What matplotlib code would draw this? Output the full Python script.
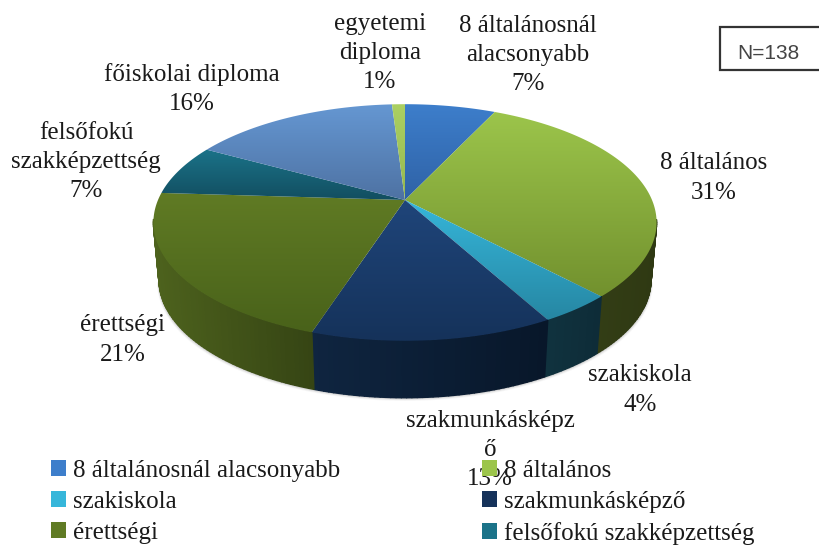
import numpy as np
import matplotlib
matplotlib.use("Agg")
import matplotlib.pyplot as plt
from matplotlib.patches import Patch, Polygon, Rectangle
from matplotlib.collections import PolyCollection
from matplotlib.colors import to_rgb

categories = ["8 általánosnál alacsonyabb", "8 általános", "szakiskola", "szakmunkásképző",
              "érettségi", "felsőfokú szakképzettség", "főiskolai diploma", "egyetemi diploma"]
values = [7, 31, 4, 13, 21, 7, 16, 1]
label_texts = ["8 általánosnál\nalacsonyabb\n7%", "8 általános\n31%", "szakiskola\n4%",
               "szakmunkásképz\nő\n13%", "érettségi\n21%", "felsőfokú\nszakképzettség\n7%",
               "főiskolai diploma\n16%", "egyetemi\ndiploma\n1%"]
label_pos = [(528, 55), (714, 178), (640, 390), (490, 450), (123, 340), (86, 162), (192, 89), (380, 53)]
top_light = ["#3d7ecb", "#9cc54b", "#36b6da", "#1f457a", "#607b24", "#1b7389", "#6597d2", "#abd062"]
top_dark = ["#2f62a6", "#72912e", "#2687a3", "#15325a", "#49621a", "#124e60", "#4e72a3", "#95b850"]
wall_light = ["#1f4070", "#3a4619", "#10333f", "#0f2540", "#4d621d", "#0e3a46", "#2e4a70", "#4a5a20"]
wall_dark = ["#1a355c", "#2f3913", "#0e2c38", "#08172a", "#364514", "#0b2f39", "#263d5c", "#3d4a1a"]

CX, CY = 405.0, 200.0
RX, RY, P = 247.0, 114.0, 0.19
DEPTH, SHRINK = 57.0, 0.978


def project(theta):
    u, v = np.sin(theta), np.cos(theta)
    w = 1 + P * v
    return CX + RX * u / w, CY - RY * v / w


fig = plt.figure(figsize=(8.2, 5.47), dpi=100)
ax = fig.add_axes([0, 0, 1, 1])
ax.set_axis_off()

fracs = np.array(values, dtype=float) / sum(values)
edges = np.concatenate([[0], np.cumsum(fracs)]) * 2 * np.pi

# soft shadow under the pie
full = np.linspace(0, 2 * np.pi, 361)
front = full[np.cos(full) < -P]
fx, fy = project(front)
bx, by = CX + (fx - CX) * SHRINK, fy + DEPTH
for grow, alpha in zip([4, 3, 2, 1], [0.03, 0.05, 0.07, 0.10]):
    sx = CX + (bx - CX) * (1 + grow / 500)
    sy = by + grow * 0.8
    ax.add_patch(Polygon(np.c_[sx, sy], closed=True, fc="k", ec="none", alpha=alpha, zorder=1))

# side wall: only the part facing the viewer
quads, cols = [], []
for i in range(len(values)):
    a0, a1 = edges[i], edges[i + 1]
    n = max(2, int(np.degrees(a1 - a0)))
    t = np.linspace(a0, a1, n + 1)
    x, y = project(t)
    x2, y2 = CX + (x - CX) * SHRINK, y + DEPTH
    c0, c1 = np.array(to_rgb(wall_light[i])), np.array(to_rgb(wall_dark[i]))
    for j in range(n):
        if np.cos(0.5 * (t[j] + t[j + 1])) > -P + 0.02:
            continue
        quads.append([(x[j], y[j]), (x[j + 1], y[j + 1]), (x2[j + 1], y2[j + 1]), (x2[j], y2[j])])
        f = (x[j] - x.min()) / max(1e-6, x.max() - x.min())
        cols.append(c0 + (c1 - c0) * f)
ax.add_collection(PolyCollection(quads, facecolors=cols, edgecolors=cols, linewidths=1.0, zorder=2))

# top face, each wedge with a vertical gradient
for i in range(len(values)):
    t = np.linspace(edges[i], edges[i + 1], 120)
    x, y = project(t)
    pts = np.vstack([[CX, CY], np.c_[x, y]])
    poly = Polygon(pts, closed=True, fc="none", ec="none", transform=ax.transData)
    ax.add_patch(poly)
    c0, c1 = np.array(to_rgb(top_light[i])), np.array(to_rgb(top_dark[i]))
    g = np.linspace(0, 1, 128)[:, None, None]
    img = c0[None, None, :] + (c1 - c0)[None, None, :] * g
    ext = (pts[:, 0].min(), pts[:, 0].max(), pts[:, 1].max(), pts[:, 1].min())
    im = ax.imshow(img, extent=ext, origin="upper", aspect="auto", zorder=3, interpolation="bilinear")
    im.set_clip_path(poly)

ax.set_xlim(0, 820)
ax.set_ylim(547, 0)

serif = "Liberation Serif"
for txt, (lx, ly) in zip(label_texts, label_pos):
    ax.text(lx, ly, txt, ha="center", va="center", family=serif, fontsize=18,
            color="#1a1a1a", linespacing=1.42, zorder=4)

# legend (first six entries fit the chart area)
shown = [0, 2, 4, 1, 3, 5]
handles = [Patch(fc=top_light[k] if k != 3 else top_dark[k], ec="none") for k in shown]
leg = fig.legend(handles, [categories[k] for k in shown], ncol=2, frameon=False,
                 loc="upper left", bbox_to_anchor=(51 / 820, 1 - 460 / 547), bbox_transform=fig.transFigure,
                 prop={"family": serif, "size": 18}, handlelength=0.6, handleheight=0.6, handletextpad=0.28,
                 columnspacing=5.68, labelspacing=0.36, borderpad=0, borderaxespad=0, labelcolor="#1a1a1a")
leg.set_zorder(10)

# N box
ax.add_patch(Rectangle((720, 27), 110, 43, fc="white", ec="#333333", lw=1.6, zorder=4))
ax.text(768, 53.5, "N=138", ha="center", va="center", family="Liberation Sans", fontsize=15,
        color="#444444", zorder=5)

fig.savefig("out.png", dpi=100)
